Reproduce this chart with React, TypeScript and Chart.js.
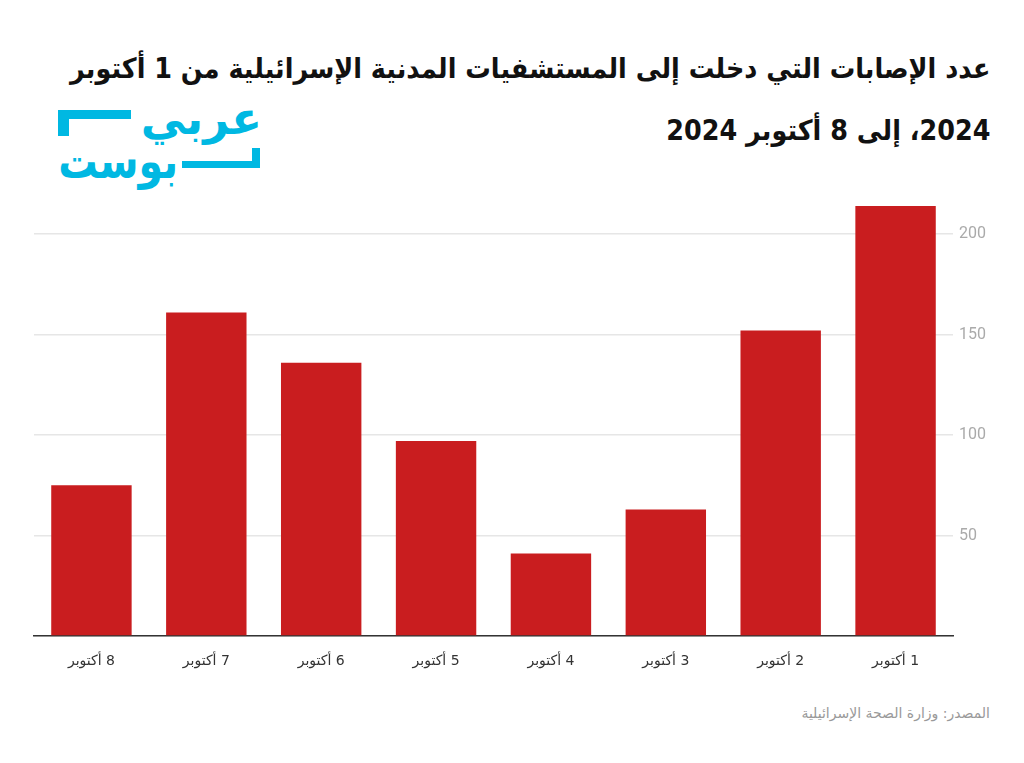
import React, { useEffect, useRef } from "react";
import { Chart, registerables } from "chart.js";

Chart.register(...registerables);

const categories = ["1 أكتوبر", "2 أكتوبر", "3 أكتوبر", "4 أكتوبر", "5 أكتوبر", "6 أكتوبر", "7 أكتوبر", "8 أكتوبر"];
const injuries = [214, 152, 63, 41, 97, 136, 161, 75];
const yTickStep = 50;

const titleLine1 = "عدد الإصابات التي دخلت إلى المستشفيات المدنية الإسرائيلية من 1 أكتوبر";
const titleLine2 = "2024، إلى 8 أكتوبر 2024";
const sourceText = "المصدر: وزارة الصحة الإسرائيلية";

const CYAN = "#00b8e2";

export default function App() {
  const ref = useRef<HTMLCanvasElement | null>(null);

  useEffect(() => {
    if (!ref.current) return;
    const chart = new Chart(ref.current, {
      type: "bar",
      data: {
        labels: categories,
        datasets: [
          {
            data: injuries,
            backgroundColor: "#c91d1f",
            borderWidth: 0,
            barPercentage: 0.7,
            categoryPercentage: 1,
          },
        ],
      },
      options: {
        animation: false,
        responsive: false,
        maintainAspectRatio: false,
        layout: { padding: { left: 14, top: 16, right: 0, bottom: 0 } },
        plugins: { legend: { display: false }, tooltip: { enabled: false }, title: { display: false } },
        scales: {
          x: {
            reverse: true,
            grid: { display: false, drawTicks: false },
            border: { display: true, color: "#333333", width: 1.5 },
            ticks: {
              color: "#333333",
              font: { family: "'DejaVu Sans', Roboto, sans-serif", size: 14 },
              padding: 17,
              maxRotation: 0,
            },
            afterFit: (s: any) => {
              s.height = 54;
            },
          },
          y: {
            position: "right",
            min: 0,
            max: Math.max(...injuries),
            grid: { color: "#e6e6e6", lineWidth: 1.5, drawTicks: false },
            border: { display: false },
            ticks: {
              stepSize: yTickStep,
              includeBounds: false,
              color: "#aaaaaa",
              padding: 6,
              font: { family: "Roboto, sans-serif", size: 16 },
              callback: (v: any) => (Number(v) === 0 ? "" : String(v)),
            },
            afterFit: (s: any) => {
              s.width = 57;
            },
          },
        },
      },
    });
    return () => chart.destroy();
  }, []);

  const abs = (x: number, y: number): React.CSSProperties => ({ position: "absolute", left: x - 8, top: y - 8 });

  return (
    <div style={{ position: "relative", width: 1008, height: 747, background: "#fff", overflow: "hidden" }}>
      <div
        style={{
          position: "absolute",
          right: 1024 - 990 - 8,
          top: 38 - 8,
          direction: "rtl",
          textAlign: "right",
          whiteSpace: "nowrap",
          fontFamily: "'DejaVu Sans', sans-serif",
          fontWeight: 700,
          fontSize: 28,
          lineHeight: "62px",
          color: "#111",
          transform: "scaleX(0.91)",
          transformOrigin: "right center",
        }}
      >
        <div>{titleLine1}</div>
        <div>{titleLine2}</div>
      </div>

      {/* logo */}
      <div style={{ ...abs(58, 110), width: 73, height: 9, background: CYAN }} />
      <div style={{ ...abs(58, 110), width: 11, height: 26, background: CYAN }} />
      <div style={{ ...abs(182, 161), width: 78, height: 7, background: CYAN }} />
      <div style={{ ...abs(252, 148), width: 8, height: 20, background: CYAN }} />
      <div
        style={{
          ...abs(130, 90),
          width: 132,
          direction: "rtl",
          textAlign: "right",
          fontFamily: "'DejaVu Sans', sans-serif",
          fontWeight: 700,
          fontSize: 45,
          lineHeight: "58px",
          color: CYAN,
        }}
      >
        عربي
      </div>
      <div
        style={{
          ...abs(40, 131),
          width: 138,
          direction: "rtl",
          textAlign: "right",
          fontFamily: "'DejaVu Sans', sans-serif",
          fontWeight: 700,
          fontSize: 48,
          lineHeight: "60px",
          color: CYAN,
          transform: "scaleX(0.82)",
          transformOrigin: "right center",
        }}
      >
        بوست
      </div>

      <canvas
        ref={ref}
        width={990}
        height={500}
        style={{ ...abs(20, 190), width: 990, height: 500, direction: "rtl" }}
      />

      <div
        style={{
          position: "absolute",
          right: 1024 - 990 - 8,
          top: 705 - 8,
          direction: "rtl",
          whiteSpace: "nowrap",
          fontFamily: "'DejaVu Sans', sans-serif",
          fontSize: 14,
          color: "#999",
        }}
      >
        {sourceText}
      </div>
    </div>
  );
}
